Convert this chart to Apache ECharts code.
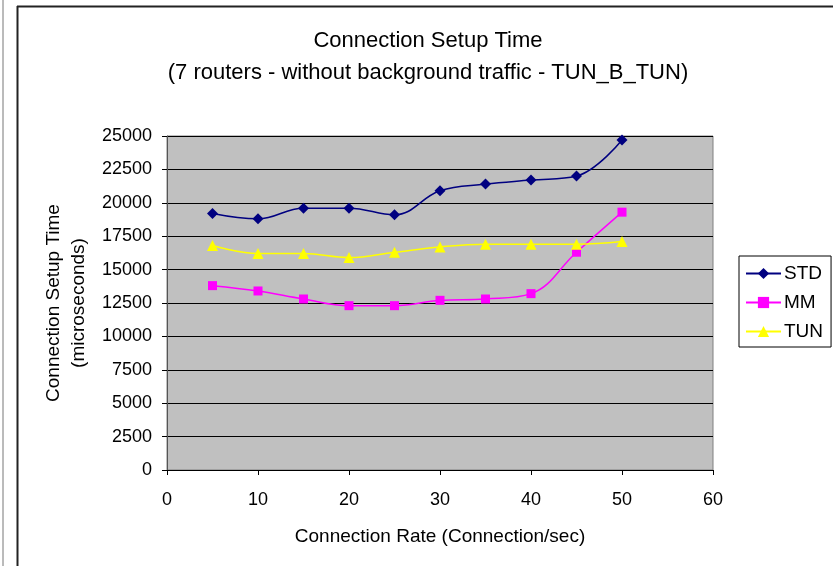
<!DOCTYPE html>
<html>
<head>
<meta charset="utf-8">
<script src="https://cdn.jsdelivr.net/npm/echarts@6/dist/echarts.min.js"></script>
<style>
html,body{margin:0;padding:0;background:#fff;}
#c{width:833px;height:566px;}
</style>
</head>
<body>
<div id="c"></div>
<script>
var rates = [5, 10, 15, 20, 25, 30, 35, 40, 45, 50];
var stdValues = [19200, 18800, 19600, 19600, 19100, 20900, 21400, 21700, 22000, 24700];
var mmValues  = [13800, 13400, 12800, 12300, 12300, 12700, 12800, 13200, 16300, 19300];
var tunValues = [16800, 16200, 16200, 15900, 16300, 16700, 16900, 16900, 16900, 17100];
var seriesNames = ['STD', 'MM', 'TUN'];
var titleText = 'Connection Setup Time\n(7 routers - without background traffic - TUN_B_TUN)';
var xAxisName = 'Connection Rate (Connection/sec)';
var yAxisName = 'Connection Setup Time\n(microseconds)';

function pairs(vals){ return rates.map(function(r,i){ return [r, vals[i]]; }); }

var font = 'Liberation Sans, Arial, sans-serif';
var chart = echarts.init(document.getElementById('c'));
chart.setOption({
  animation: false,
  backgroundColor: '#ffffff',
  textStyle: { fontFamily: font },
  title: {
    text: titleText,
    left: 428, top: 25, textAlign: 'center', padding: 0,
    textStyle: { fontFamily: font, fontSize: 22, fontWeight: 'normal', color: '#000', lineHeight: 32 }
  },
  legend: {
    orient: 'vertical',
    left: 739, top: 256,
    padding: [8, 8, 6, 6],
    backgroundColor: '#ffffff',
    borderColor: '#000000',
    borderWidth: 1,
    itemWidth: 35, itemHeight: 14, itemGap: 10,
    textStyle: { fontFamily: font, fontSize: 19, lineHeight: 16, color: '#000', padding: [0,0,0,-2] },
    data: seriesNames
  },
  grid: { left: 167, top: 136, width: 546, height: 334, show: true, backgroundColor: '#C0C0C0', borderColor: '#808080', borderWidth: 1 },
  xAxis: {
    type: 'value', min: 0, max: 60, interval: 10,
    name: xAxisName, nameLocation: 'middle', nameGap: 57,
    nameTextStyle: { fontFamily: font, fontSize: 19, color: '#000' },
    axisLine: { show: true, onZero: false, lineStyle: { color: '#000', width: 1 } },
    axisTick: { show: true, inside: false, length: 5, lineStyle: { color: '#000' } },
    axisLabel: { fontFamily: font, fontSize: 18, color: '#000', margin: 21 },
    splitLine: { show: false }
  },
  yAxis: {
    type: 'value', min: 0, max: 25000, interval: 2500,
    name: yAxisName, nameLocation: 'middle', nameGap: 74, nameRotate: 90,
    nameTextStyle: { fontFamily: font, fontSize: 19, color: '#000', lineHeight: 25 },
    axisLine: { show: true, lineStyle: { color: '#555', width: 1 } },
    axisTick: { show: true, inside: false, length: 5, lineStyle: { color: '#000' } },
    axisLabel: { fontFamily: font, fontSize: 18, color: '#000', margin: 15,
      formatter: function(v){ return String(v); } },
    splitLine: { show: true, lineStyle: { color: '#000', width: 1 } }
  },
  series: [
    { name: 'STD', type: 'line', data: pairs(stdValues), smooth: 0.4,
      symbol: 'diamond', symbolSize: 11,
      lineStyle: { color: '#000080', width: 1.5 }, itemStyle: { color: '#000080' } },
    { name: 'MM', type: 'line', data: pairs(mmValues), smooth: 0.4,
      symbol: 'rect', symbolSize: 9,
      lineStyle: { color: '#FF00FF', width: 1.5 }, itemStyle: { color: '#FF00FF' } },
    { name: 'TUN', type: 'line', data: pairs(tunValues), smooth: 0.4,
      symbol: 'triangle', symbolSize: 11,
      lineStyle: { color: '#FFFF00', width: 1.5 }, itemStyle: { color: '#FFFF00' } }
  ],
  graphic: [
    { type: 'line', shape: { x1: 3, y1: 0, x2: 3, y2: 566 }, style: { stroke: '#777', lineWidth: 1 } },
    { type: 'line', shape: { x1: 17.5, y1: 6, x2: 17.5, y2: 566 }, style: { stroke: '#222', lineWidth: 2 } },
    { type: 'line', shape: { x1: 17, y1: 6.5, x2: 833, y2: 6.5 }, style: { stroke: '#222', lineWidth: 2 } }
  ]
});
</script>
</body>
</html>
